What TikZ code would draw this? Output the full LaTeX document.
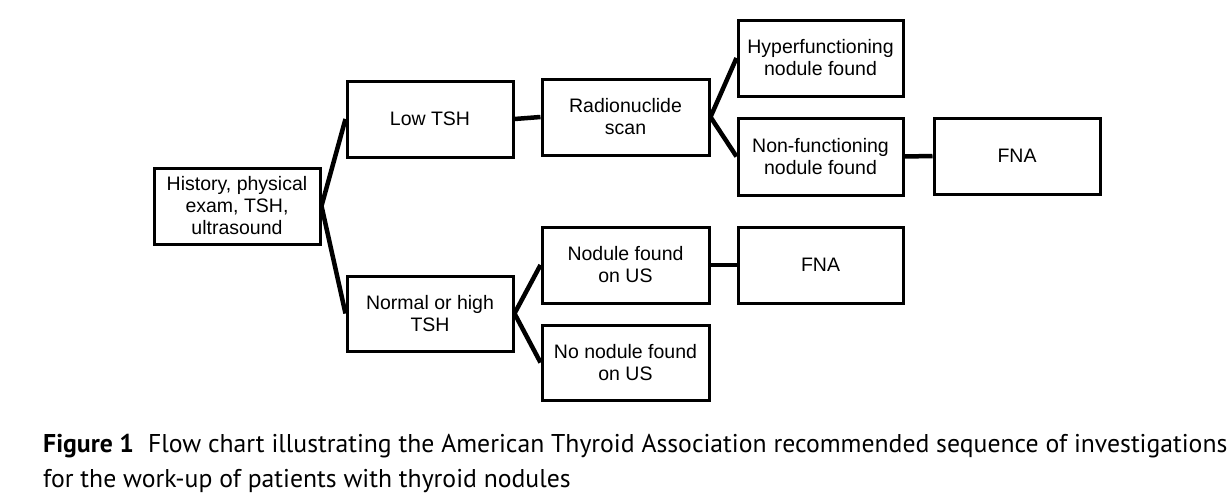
\documentclass[tikz,border=0pt]{standalone}
\usepackage{fontspec}
\setmainfont{Liberation Sans}
\newfontfamily\capfont{PT Sans}
\begin{document}
\begin{tikzpicture}[x=1pt,y=-1pt,
  box/.style={draw=black,line width=3pt,rectangle,inner sep=0pt,align=center,
    font=\fontsize{19.5}{22}\selectfont},
  conn/.style={line width=4.5pt,draw=black},
  captxt/.style={anchor=base west,inner sep=0pt,font=\capfont\fontsize{25.7}{30}\selectfont}]
\useasboundingbox[fill=white] (0,0) rectangle (1232,493);
\node[box,minimum width=166pt,minimum height=76pt] (hist) at (237,206) {History, physical\\exam, TSH,\\ultrasound};
\node[box,minimum width=166pt,minimum height=76pt] (low) at (430,119) {Low TSH};
\node[box,minimum width=166pt,minimum height=75pt] (norm) at (430,313.5) {Normal or high\\TSH};
\node[box,minimum width=167pt,minimum height=76pt] (radio) at (625.5,117) {Radionuclide\\scan};
\node[box,minimum width=165pt,minimum height=76pt] (hyper) at (820.5,58) {Hyperfunctioning\\nodule found};
\node[box,minimum width=165pt,minimum height=77pt] (nonf) at (820.5,156.5) {Non-functioning\\nodule found};
\node[box,minimum width=166pt,minimum height=76pt] (fnaa) at (1017,156) {FNA};
\node[box,minimum width=167pt,minimum height=76pt] (nod) at (625.5,265) {Nodule found\\on US};
\node[box,minimum width=165pt,minimum height=76pt] (fnab) at (820.5,265) {FNA};
\node[box,minimum width=167pt,minimum height=75pt] (nonod) at (625.5,362.5) {No nodule found\\on US};
\draw[conn] (hist.east) -- (low.west);
\draw[conn] (hist.east) -- (norm.west);
\draw[conn] (low.east) -- (radio.west);
\draw[conn] (radio.east) -- (hyper.west);
\draw[conn] (radio.east) -- (nonf.west);
\draw[conn] (nonf.east) -- (fnaa.west);
\draw[conn] (norm.east) -- (nod.west);
\draw[conn] (norm.east) -- (nonod.west);
\draw[conn] (nod.east) -- (fnab.west);
\node[captxt] (cap1) at (43,452) {\textbf{Figure 1}\hspace{0.55em}Flow chart illustrating the American Thyroid Association recommended sequence of investigations};
\node[captxt] (cap2) at (43,487) {for the work-up of patients with thyroid nodules};
\end{tikzpicture}
\end{document}
